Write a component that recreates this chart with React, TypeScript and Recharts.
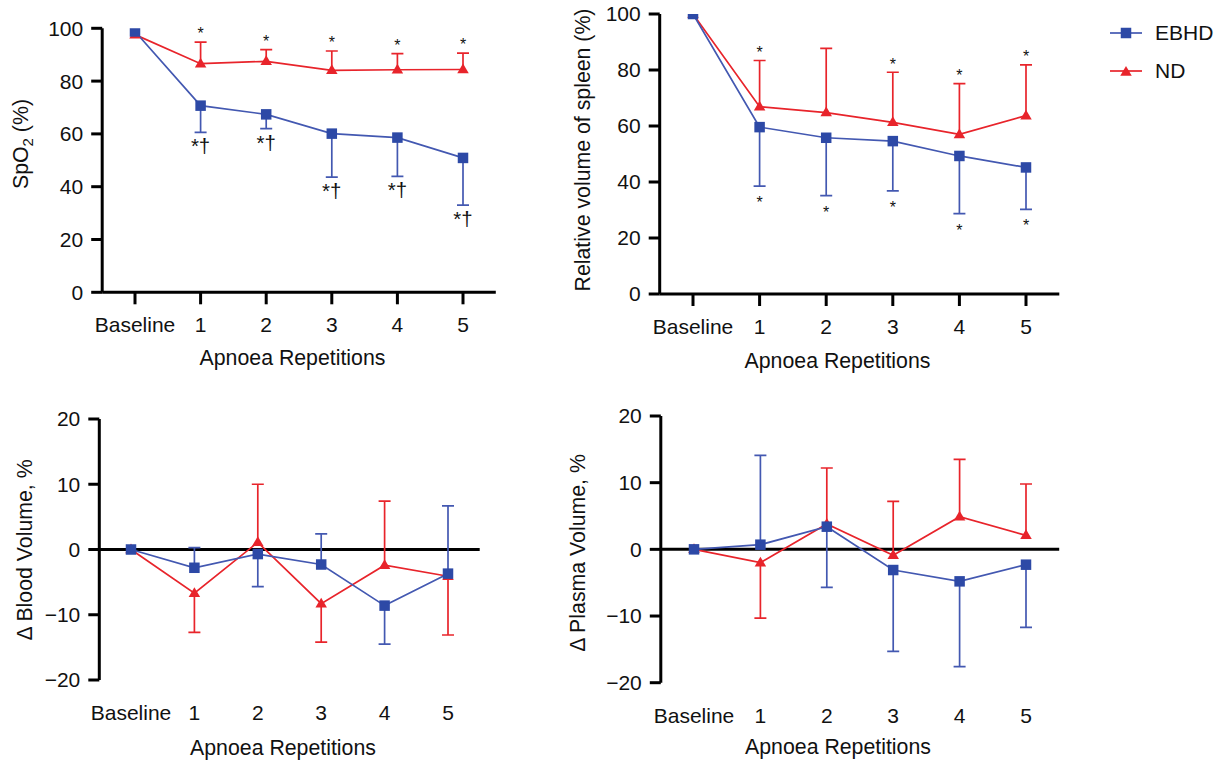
import {
  ComposedChart,
  Line,
  XAxis,
  YAxis,
  ErrorBar,
  ReferenceLine,
  ReferenceDot,
  Legend,
} from 'recharts'
import type { ReactNode } from 'react'

const FONT = '"Liberation Sans", Arial, Helvetica, sans-serif'
const INK = '#111'
const BLUE = '#2d49a6'
const BLUE_LINE = '#4358b1'
const RED = '#e8242b'

// x categories
const categories = ['Baseline', '1', '2', '3', '4', '5']
const xTicks = [0, 1, 2, 3, 4, 5]

// SpO2 (%)
const spo2Ebhd = [98.8, 70.7, 67.4, 60.1, 58.6, 50.9]
const spo2EbhdErrEnd = [null, 60.6, 62.0, 43.6, 43.9, 33.0]
const spo2Nd = [97.6, 86.6, 87.5, 84.1, 84.3, 84.4]
const spo2NdErrEnd = [null, 94.8, 91.9, 91.4, 90.4, 90.6]
const spo2NdMarks = ['', '*', '*', '*', '*', '*']
const spo2EbhdMarks = ['', '*†', '*†', '*†', '*†', '*†']

// relative spleen volume (%)
const spleenEbhd = [100, 59.6, 55.8, 54.6, 49.3, 45.2]
const spleenEbhdErrEnd = [null, 38.5, 35.1, 36.8, 28.7, 30.2]
const spleenNd = [100, 66.9, 64.8, 61.3, 57.0, 63.7]
const spleenNdErrEnd = [null, 83.4, 87.7, 79.2, 75.1, 81.8]
const spleenNdMarks = ['', '*', '', '*', '*', '*']
const spleenEbhdMarks = ['', '*', '*', '*', '*', '*']

// delta blood volume (%)
const bloodEbhd = [0, -2.8, -0.7, -2.3, -8.6, -3.7]
const bloodEbhdErrEnd = [null, 0.3, -5.7, 2.4, -14.5, 6.7]
const bloodNd = [0, -6.7, 1.1, -8.3, -2.4, -4.1]
const bloodNdErrEnd = [null, -12.7, 10.0, -14.2, 7.4, -13.1]

// delta plasma volume (%)
const plasmaEbhd = [0, 0.7, 3.4, -3.1, -4.8, -2.3]
const plasmaEbhdErrEnd = [null, 14.1, -5.7, -15.3, -17.6, -11.7]
const plasmaNd = [0, -2.0, 3.8, -0.9, 4.9, 2.1]
const plasmaNdErrEnd = [null, -10.3, 12.2, 7.2, 13.5, 9.8]

const pctTicks = [0, 20, 40, 60, 80, 100]
const deltaTicks = [-20, -10, 0, 10, 20]

function errPair(mean: number, end: number | null) {
  if (end == null) return undefined
  return end < mean ? [mean - end, 0] : [0, end - mean]
}

function buildRows(ebhd: number[], ebhdEnd: (number | null)[], nd: number[], ndEnd: (number | null)[]) {
  return categories.map((_, i) => ({
    x: i,
    ebhd: ebhd[i],
    nd: nd[i],
    ebhdErr: errPair(ebhd[i], ebhdEnd[i]),
    ndErr: errPair(nd[i], ndEnd[i]),
    ebhdEnd: ebhdEnd[i],
    ndEnd: ndEnd[i],
  }))
}

const fmtNum = (v: number) => (v < 0 ? '\u2212' + Math.abs(v) : String(v))

// eslint-disable-next-line @typescript-eslint/no-explicit-any
function Square(props: any) {
  const { cx, cy } = props
  if (cx == null || cy == null) return null
  return <rect x={cx - 5.25} y={cy - 5.25} width={10.5} height={10.5} fill={BLUE} />
}

// eslint-disable-next-line @typescript-eslint/no-explicit-any
function Triangle(props: any) {
  const { cx, cy } = props
  if (cx == null || cy == null) return null
  return <path d={`M${cx},${cy - 6}L${cx + 5.75},${cy + 3.75}L${cx - 5.75},${cy + 3.75}Z`} fill={RED} />
}

// eslint-disable-next-line @typescript-eslint/no-explicit-any
function Cap(props: any) {
  const { cx, cy, color } = props
  if (cx == null || cy == null) return null
  return <line x1={cx - 6} x2={cx + 6} y1={cy} y2={cy} stroke={color} strokeWidth={1.7} />
}

// eslint-disable-next-line @typescript-eslint/no-explicit-any
function LegendBox({ payload }: any) {
  const order = ['EBHD', 'ND']
  const items = (payload || [])
    // eslint-disable-next-line @typescript-eslint/no-explicit-any
    .filter((it: any) => order.includes(it.value))
    // eslint-disable-next-line @typescript-eslint/no-explicit-any
    .sort((a: any, b: any) => order.indexOf(a.value) - order.indexOf(b.value))
  return (
    <div style={{ fontFamily: FONT, fontSize: 21, color: INK }}>
      {/* eslint-disable-next-line @typescript-eslint/no-explicit-any */}
      {items.map((it: any) => (
        <div key={it.value} style={{ display: 'flex', alignItems: 'center', height: 38 }}>
          <svg width={32} height={38}>
            <line x1={0} y1={19} x2={32} y2={19} stroke={it.value === 'EBHD' ? BLUE_LINE : RED} strokeWidth={1.7} />
            {it.value === 'EBHD' ? <Square cx={16} cy={19} /> : <Triangle cx={16} cy={20} />}
          </svg>
          <span style={{ marginLeft: 13 }}>{it.value}</span>
        </div>
      ))}
    </div>
  )
}

interface Marks {
  key: 'ebhd' | 'nd'
  texts: string[]
  ends: (number | null)[]
  dy: number
  size: number
}

interface PanelProps {
  left: number
  top: number
  width: number
  height: number
  plotLeft: number
  plotRight: number
  plotTop: number
  xAxisHeight: number
  yDomain: [number, number]
  yTicks: number[]
  rows: ReturnType<typeof buildRows>
  zeroLine?: boolean
  yTitle: ReactNode
  yTitleX: number
  yTitleY: number
  xTitleX: number
  xTitleY: number
  marks?: Marks[]
  legend?: boolean
}

function Panel(p: PanelProps) {
  const txt = { fill: INK, fontSize: 21, fontFamily: FONT }
  return (
    <div style={{ position: 'absolute', left: p.left, top: p.top }}>
      <ComposedChart
        width={p.width}
        height={p.height}
        data={p.rows}
        margin={{ top: p.plotTop, right: p.width - p.plotRight, left: 0, bottom: 0 }}
      >
        {p.zeroLine && <ReferenceLine y={0} stroke="#000" strokeWidth={3} />}
        <XAxis
          type="number"
          dataKey="x"
          domain={[-0.5, 5.5]}
          ticks={xTicks}
          interval={0}
          allowDataOverflow
          height={p.xAxisHeight}
          tickFormatter={(v: number) => categories[v]}
          tick={txt}
          axisLine={p.zeroLine ? false : { stroke: '#000', strokeWidth: 3 }}
          tickLine={p.zeroLine ? false : { stroke: '#000', strokeWidth: 3 }}
          tickSize={p.zeroLine ? 0 : 12}
          tickMargin={p.zeroLine ? 25 : 13}
          label={{
            content: () => (
              <text x={p.xTitleX} y={p.xTitleY} textAnchor="middle" fill={INK} fontSize={21.3} fontFamily={FONT}>
                Apnoea Repetitions
              </text>
            ),
          }}
        />
        <YAxis
          type="number"
          domain={p.yDomain}
          ticks={p.yTicks}
          interval={0}
          allowDataOverflow
          width={p.plotLeft}
          tickFormatter={fmtNum}
          tick={txt}
          tickSize={11}
          tickMargin={8}
          axisLine={{ stroke: '#000', strokeWidth: 3 }}
          tickLine={{ stroke: '#000', strokeWidth: 3 }}
          label={{
            content: () => (
              <text
                transform={`translate(${p.yTitleX},${p.yTitleY}) rotate(-90)`}
                textAnchor="middle"
                fill={INK}
                fontSize={21.3}
                fontFamily={FONT}
              >
                {p.yTitle}
              </text>
            ),
          }}
        />
        {/* error-bar caps, only at the far end of each one-sided bar */}
        <Line
          dataKey="ndEnd"
          name="ND cap"
          stroke="none"
          dot={<Cap color={RED} />}
          activeDot={false}
          legendType="none"
          isAnimationActive={false}
        />
        <Line
          dataKey="ebhdEnd"
          name="EBHD cap"
          stroke="none"
          dot={<Cap color={BLUE_LINE} />}
          activeDot={false}
          legendType="none"
          isAnimationActive={false}
        />
        <Line
          dataKey="nd"
          name="ND"
          type="linear"
          stroke={RED}
          strokeWidth={1.7}
          dot={<Triangle />}
          activeDot={false}
          isAnimationActive={false}
        >
          <ErrorBar dataKey="ndErr" direction="y" width={0} stroke={RED} strokeWidth={1.7} />
        </Line>
        <Line
          dataKey="ebhd"
          name="EBHD"
          type="linear"
          stroke={BLUE_LINE}
          strokeWidth={1.7}
          dot={<Square />}
          activeDot={false}
          isAnimationActive={false}
        >
          <ErrorBar dataKey="ebhdErr" direction="y" width={0} stroke={BLUE_LINE} strokeWidth={1.7} />
        </Line>
        {(p.marks || []).flatMap((m) =>
          m.texts.map((t, i) =>
            t && m.ends[i] != null ? (
              <ReferenceDot
                key={m.key + i}
                x={i}
                y={m.ends[i] as number}
                r={0}
                ifOverflow="visible"
                // eslint-disable-next-line @typescript-eslint/no-explicit-any
                shape={(s: any) => (
                  <text x={s.cx} y={s.cy + m.dy} textAnchor="middle" fill={INK} fontSize={m.size} fontFamily={FONT}>
                    {t}
                  </text>
                )}
              />
            ) : null,
          ),
        )}
        {p.legend && (
          <Legend
            layout="vertical"
            align="center"
            verticalAlign="middle"
            wrapperStyle={{ left: 550, top: 14, width: 120 }}
            content={<LegendBox />}
          />
        )}
      </ComposedChart>
    </div>
  )
}

export default function App() {
  return (
    <div style={{ position: 'absolute', left: 0, top: 0, width: 1219, height: 760, background: '#fff' }}>
      <Panel
        left={0}
        top={0}
        width={540}
        height={380}
        plotLeft={102.2}
        plotRight={495.8}
        plotTop={28.3}
        xAxisHeight={87.7}
        yDomain={[0, 100]}
        yTicks={pctTicks}
        rows={buildRows(spo2Ebhd, spo2EbhdErrEnd, spo2Nd, spo2NdErrEnd)}
        yTitle={
          <>
            <tspan>SpO</tspan>
            <tspan dy={5} fontSize={15}>
              2
            </tspan>
            <tspan dy={-5}> (%)</tspan>
          </>
        }
        yTitleX={28}
        yTitleY={144}
        xTitleX={292.5}
        xTitleY={365}
        marks={[
          { key: 'nd', texts: spo2NdMarks, ends: spo2NdErrEnd, dy: -3, size: 16 },
          { key: 'ebhd', texts: spo2EbhdMarks, ends: spo2EbhdErrEnd, dy: 21, size: 20.5 },
        ]}
      />
      <Panel
        left={560}
        top={0}
        width={659}
        height={380}
        plotLeft={99.7}
        plotRight={499.3}
        plotTop={14}
        xAxisHeight={86}
        yDomain={[0, 100]}
        yTicks={pctTicks}
        rows={buildRows(spleenEbhd, spleenEbhdErrEnd, spleenNd, spleenNdErrEnd)}
        yTitle="Relative volume of spleen (%)"
        yTitleX={30}
        yTitleY={150}
        xTitleX={277.5}
        xTitleY={368}
        marks={[
          { key: 'nd', texts: spleenNdMarks, ends: spleenNdErrEnd, dy: -2.5, size: 16 },
          { key: 'ebhd', texts: spleenEbhdMarks, ends: spleenEbhdErrEnd, dy: 22, size: 16 },
        ]}
        legend
      />
      <Panel
        left={0}
        top={400}
        width={540}
        height={360}
        plotLeft={99.3}
        plotRight={479.7}
        plotTop={19}
        xAxisHeight={80}
        yDomain={[-20, 20]}
        yTicks={deltaTicks}
        rows={buildRows(bloodEbhd, bloodEbhdErrEnd, bloodNd, bloodNdErrEnd)}
        zeroLine
        yTitle="Δ Blood Volume, %"
        yTitleX={31.5}
        yTitleY={150}
        xTitleX={283}
        xTitleY={355}
      />
      <Panel
        left={560}
        top={400}
        width={540}
        height={360}
        plotLeft={100.8}
        plotRight={499.2}
        plotTop={16}
        xAxisHeight={77.3}
        yDomain={[-20, 20]}
        yTicks={deltaTicks}
        rows={buildRows(plasmaEbhd, plasmaEbhdErrEnd, plasmaNd, plasmaNdErrEnd)}
        zeroLine
        yTitle="Δ Plasma Volume, %"
        yTitleX={25}
        yTitleY={153}
        xTitleX={278}
        xTitleY={354}
      />
    </div>
  )
}
